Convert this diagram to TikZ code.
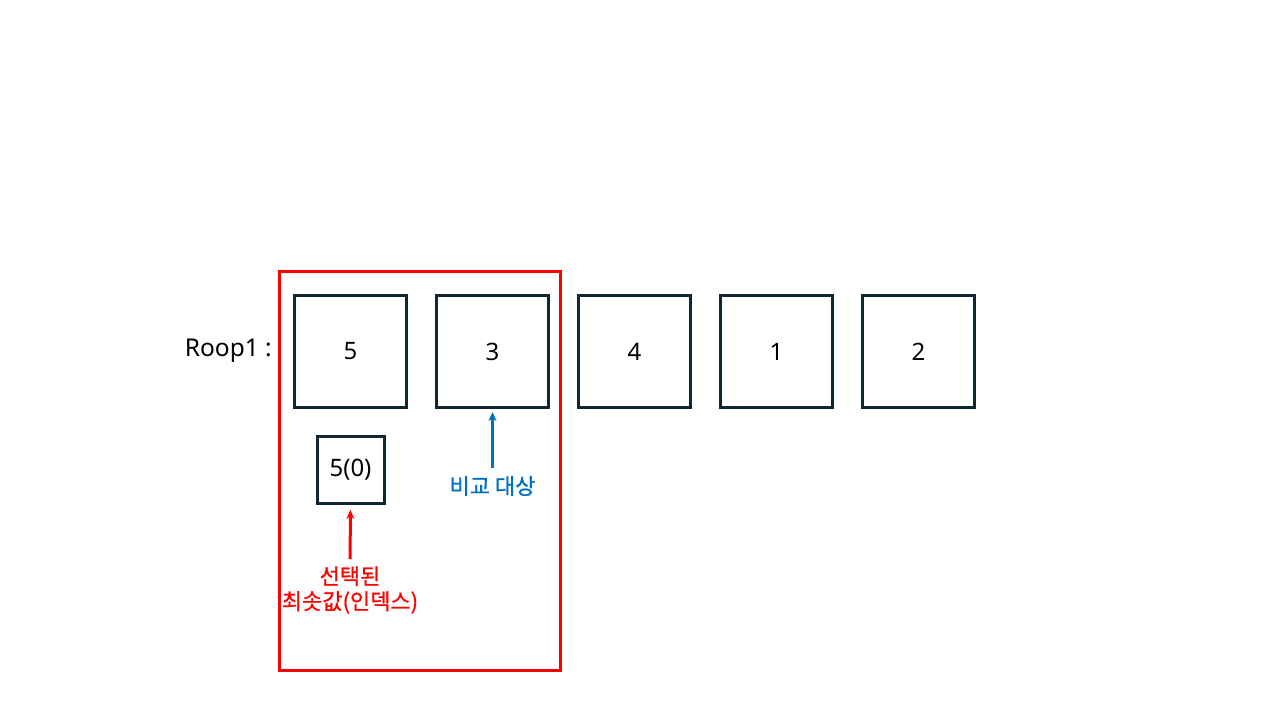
\documentclass[tikz,border=0pt]{standalone}
\usepackage{fontspec}
\setmainfont{Noto Sans}
\newfontfamily\kr[FakeBold=0.8]{Noto Sans CJK KR}
\usetikzlibrary{arrows.meta}
\definecolor{boxnavy}{RGB}{16,38,50}
\definecolor{cmpblue}{RGB}{0,112,192}
\definecolor{selred}{RGB}{255,0,0}

\begin{document}
\begin{tikzpicture}[x=1pt,y=-1pt,
      cell/.style={draw=boxnavy,line width=3pt,minimum size=112pt,
        inner sep=0pt,font=\fontsize{24}{28}\selectfont},
      small/.style={cell,minimum size=67pt},
      note/.style={align=center,inner sep=0pt,font=\kr\fontsize{22}{25}\selectfont},
      a/.style={-{Stealth[length=9pt,width=8pt]},line width=3pt}]
      \useasboundingbox (0,0) rectangle (1280,720);
      % current pass
      \draw[selred,line width=3pt] (279,271) rectangle (560,670);
      \node[anchor=east,inner sep=0pt,font=\fontsize{24.5}{28}\selectfont]
        (label) at (272,351) {Roop1 :};
      \node[cell] (c1) at (350.5,351.5) {5};
      \node[cell] (c2) at (492.5,351.5) {3};
      \node[cell] (c3) at (634.5,351.5) {4};
      \node[cell] (c4) at (776.5,351.5) {1};
      \node[cell] (c5) at (918.5,351.5) {2};
      \node[small] (minv) at (350.5,470) {5(0)};
      % labels under the row
      \node[note,text=cmpblue] (cmp) at (492.5,486) {비교 대상};
      \node[note,text=selred] (sel) at (350,590) {선택된\\최솟값(인덱스)};
      \draw[a,cmpblue,shorten <=8pt,shorten >=3pt] (cmp.north) -- (c2.south);
      \draw[a,selred,shorten <=7pt,shorten >=5pt] (sel.north) -- (minv.south);
    \end{tikzpicture}
\end{document}
